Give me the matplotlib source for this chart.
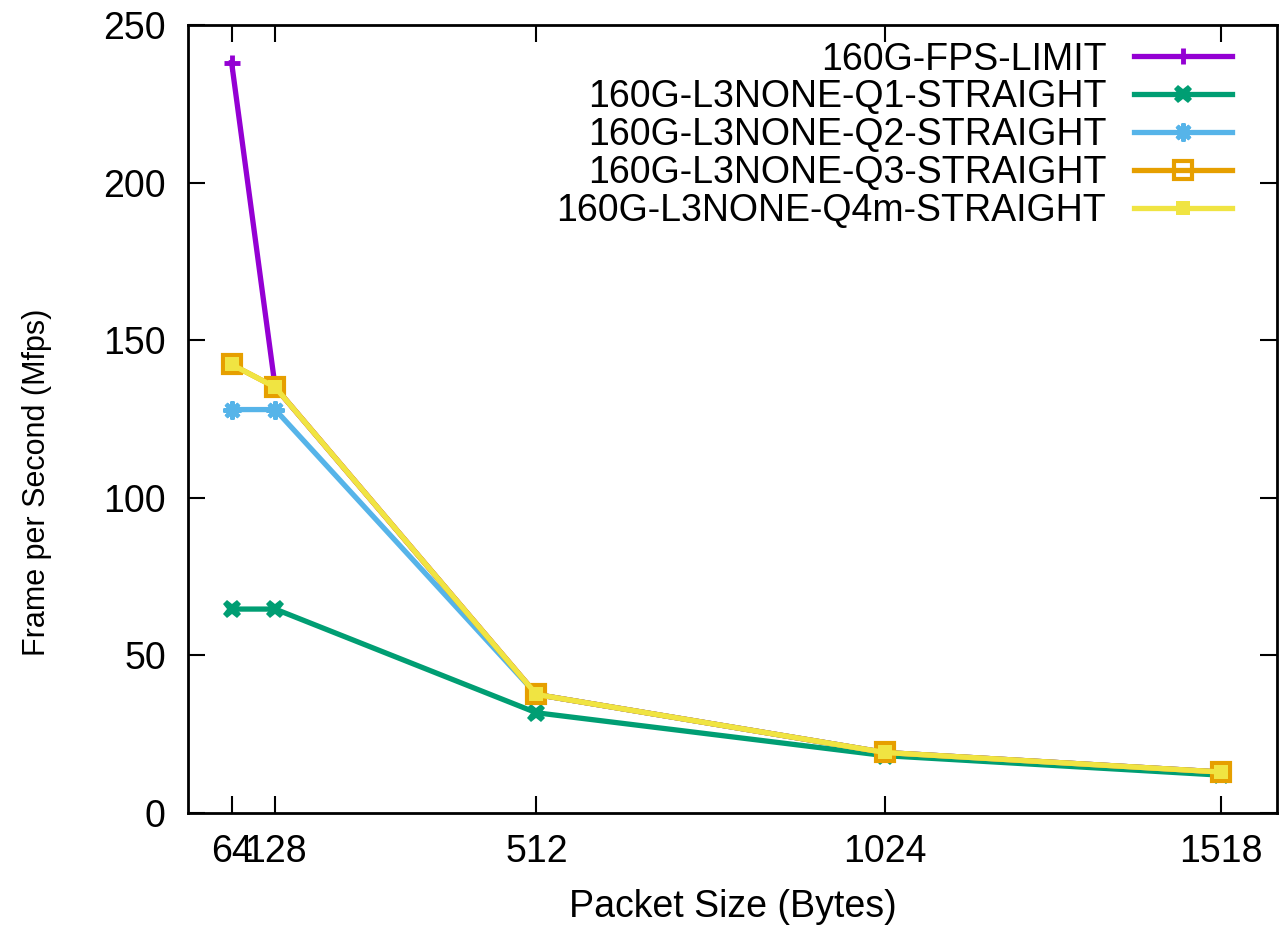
import matplotlib
matplotlib.use("Agg")
import matplotlib.pyplot as plt

plt.rcParams['font.family'] = ['Liberation Sans', 'DejaVu Sans']

packet_sizes = [64, 128, 512, 1024, 1518]
xtick_labels = ["64", "128", "512", "1024", "1518"]
yticks = [0, 50, 100, 150, 200, 250]

fps_limit = [238.1, 135.1, 37.6, 19.2, 13.0]
q1 = [64.7, 64.7, 31.8, 18.2, 12.0]
q2 = [128.0, 128.0, 37.6, 19.2, 13.0]
q3 = [142.3, 135.1, 37.6, 19.2, 13.0]
q4m = [142.3, 135.1, 37.6, 19.2, 13.0]

series_names = ["160G-FPS-LIMIT", "160G-L3NONE-Q1-STRAIGHT", "160G-L3NONE-Q2-STRAIGHT",
                "160G-L3NONE-Q3-STRAIGHT", "160G-L3NONE-Q4m-STRAIGHT"]

FS = 27
fig = plt.figure(figsize=(12.81, 9.30), dpi=100)
ax = fig.add_axes([0.1468, 0.1258, 0.8500, 0.8473])

lw = 3.8
ax.plot(packet_sizes, fps_limit, color='#9400D3', lw=lw, marker='+', ms=11, mew=3.5,
        label=series_names[0])
ax.plot(packet_sizes, q1, color='#009E73', lw=lw, marker='X', ms=13, mew=0,
        label=series_names[1])
ax.plot(packet_sizes, q2, color='#56B4E9', lw=lw, marker=(8, 2, 0), ms=13, mew=3,
        mec='#56B4E9', label=series_names[2])
ax.plot(packet_sizes, q3, color='#E69F00', lw=lw, marker='s', ms=13, mew=3,
        mfc='none', label=series_names[3])
ax.plot(packet_sizes, q4m, color='#F0E442', lw=lw, marker='s', ms=9.5, mew=0,
        label=series_names[4])

ax.set_xlim(0, 1600)
ax.set_ylim(0, 250)
ax.set_xticks(packet_sizes)
ax.set_xticklabels(xtick_labels)
ax.set_yticks(yticks)
ax.tick_params(direction='in', length=12, width=1.5, top=True, right=True,
               labelsize=FS)
ax.tick_params(axis='y', pad=16)
ax.tick_params(axis='x', pad=15)
for s in ax.spines.values():
    s.set_linewidth(2)

ax.set_xlabel("Packet Size (Bytes)", fontsize=FS, labelpad=14)
ax.set_ylabel("Frame per Second (Mfps)", fontsize=22)
ax.yaxis.set_label_coords(-0.125, 0.42)

leg = ax.legend(loc='upper right', bbox_to_anchor=(0.9587, 0.979), frameon=False,
                markerfirst=False, fontsize=FS, handlelength=2.6, labelspacing=0.05,
                handletextpad=0.75, borderpad=0, borderaxespad=0)

fig.savefig("out.png", dpi=100)
